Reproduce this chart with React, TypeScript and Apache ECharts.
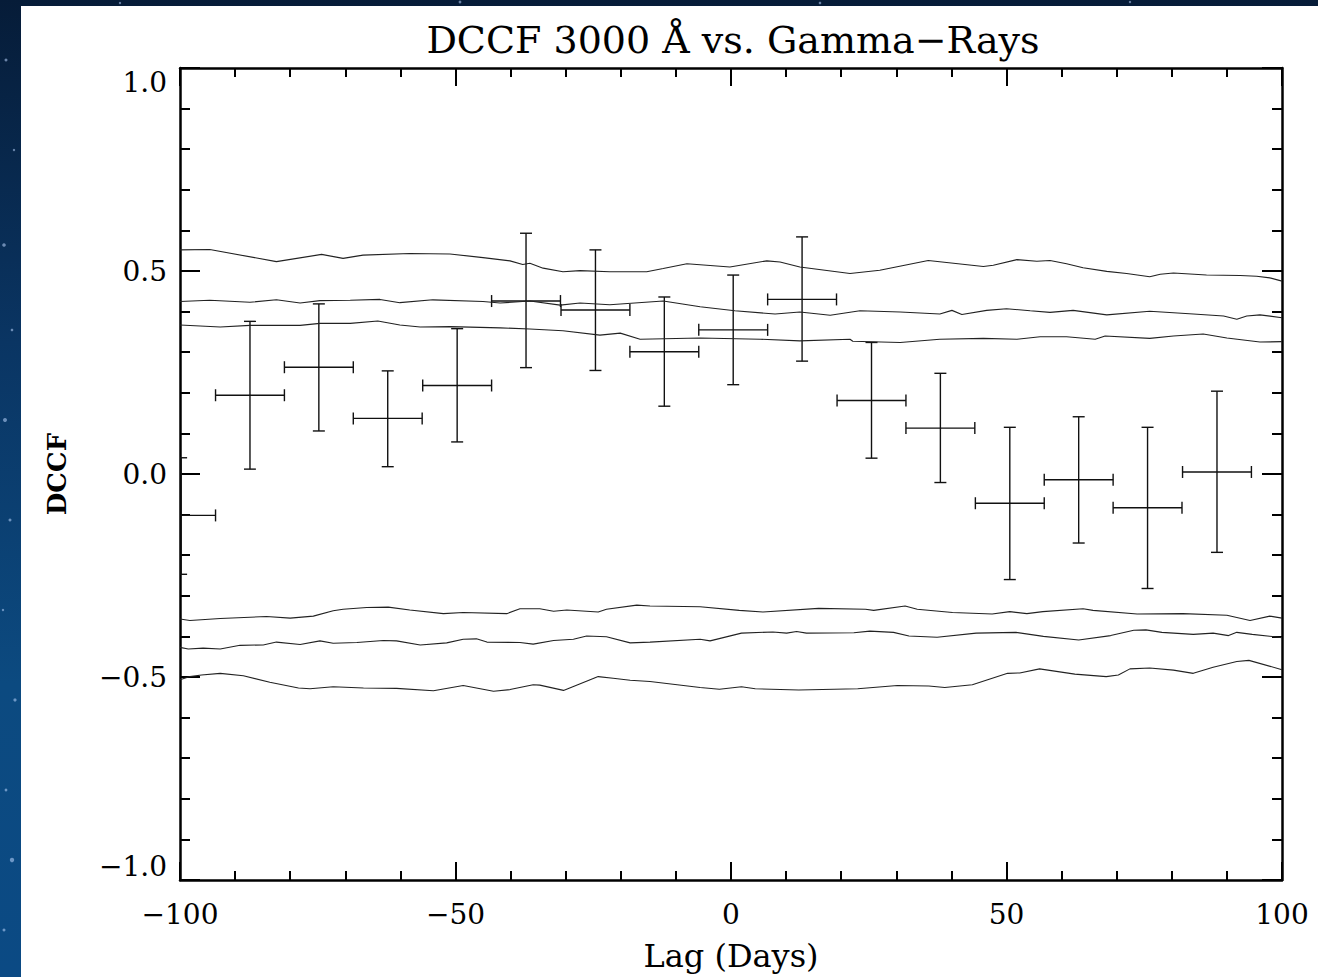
import React, { useEffect, useRef } from "react";
import * as echarts from "echarts";

// ---- Data ----
const lagCenters = [-99.8, -87.3, -74.8, -62.3, -49.7, -37.2, -24.6, -12.1, 0.4, 12.9, 25.5, 38.0, 50.6, 63.1, 75.6, 88.2];
const dccfValues = [-0.102, 0.194, 0.263, 0.137, 0.218, 0.426, 0.404, 0.301, 0.355, 0.430, 0.181, 0.113, -0.072, -0.014, -0.083, 0.005];
const dccfUpper = [0.040, 0.376, 0.419, 0.254, 0.358, 0.593, 0.552, 0.436, 0.490, 0.584, 0.324, 0.248, 0.115, 0.141, 0.115, 0.204];
const dccfLower = [-0.247, 0.012, 0.106, 0.018, 0.079, 0.262, 0.255, 0.167, 0.220, 0.278, 0.039, -0.021, -0.260, -0.170, -0.282, -0.193];
const binHalfWidth = 6.25;

const sigUpperOuter: [number, number][] = [
  [-100, 0.552], [-94.6, 0.553], [-82.5, 0.523], [-74.3, 0.541], [-70.4, 0.531], [-66.8, 0.539], [-58.3, 0.543],
  [-51.0, 0.542], [-45.0, 0.533], [-40.1, 0.525], [-37.8, 0.516], [-36.5, 0.519], [-34.1, 0.507], [-30.5, 0.498],
  [-27.4, 0.501], [-22.0, 0.498], [-15.3, 0.498], [-12.3, 0.506], [-8.0, 0.518], [-0.2, 0.510], [6.5, 0.525],
  [8.9, 0.522], [12.5, 0.510], [21.6, 0.494], [27.0, 0.502], [35.8, 0.526], [45.8, 0.511], [47.6, 0.514],
  [51.9, 0.528], [55.5, 0.524], [57.9, 0.526], [60.9, 0.518], [63.9, 0.508], [68.2, 0.499], [71.8, 0.494],
  [76.0, 0.486], [77.9, 0.492], [80.3, 0.495], [86.3, 0.490], [92.4, 0.489], [95.4, 0.487], [97.8, 0.483], [100, 0.475],
];
const sigUpperMiddle: [number, number][] = [
  [-100, 0.425], [-94.6, 0.428], [-87.3, 0.423], [-82.5, 0.429], [-78.2, 0.421], [-74.6, 0.427], [-69.1, 0.428],
  [-63.7, 0.430], [-60.1, 0.422], [-54.1, 0.429], [-45.0, 0.425], [-41.9, 0.421], [-36.5, 0.426], [-31.0, 0.416],
  [-27.4, 0.421], [-22.0, 0.417], [-12.3, 0.426], [-5.6, 0.412], [0.7, 0.402], [8.0, 0.394], [12.5, 0.399],
  [18.0, 0.391], [23.4, 0.402], [30.7, 0.399], [37.9, 0.394], [40.1, 0.403], [41.9, 0.393], [46.4, 0.403],
  [50.0, 0.407], [54.3, 0.402], [57.9, 0.398], [62.1, 0.403], [68.2, 0.392], [76.0, 0.401], [83.9, 0.394],
  [89.4, 0.389], [91.8, 0.381], [93.6, 0.389], [96.0, 0.392], [100, 0.385],
];
const sigUpperInner: [number, number][] = [
  [-100, 0.367], [-92.7, 0.362], [-87.3, 0.366], [-78.2, 0.366], [-74.6, 0.371], [-69.1, 0.371], [-64.1, 0.377],
  [-60.1, 0.367], [-56.4, 0.362], [-51.0, 0.363], [-41.9, 0.360], [-36.5, 0.357], [-30.5, 0.353], [-23.8, 0.342],
  [-20.1, 0.347], [-16.5, 0.332], [-5.6, 0.335], [5.3, 0.332], [12.5, 0.328], [21.6, 0.332], [22.1, 0.327],
  [30.7, 0.324], [37.9, 0.332], [45.8, 0.334], [51.9, 0.332], [56.1, 0.338], [60.9, 0.338], [66.1, 0.332],
  [67.9, 0.340], [76.0, 0.334], [80.3, 0.340], [85.7, 0.345], [90.0, 0.335], [96.0, 0.325], [100, 0.326],
];
const sigLowerInner: [number, number][] = [
  [-100, -0.357], [-98.2, -0.361], [-92.7, -0.356], [-84.3, -0.351], [-80.0, -0.355], [-75.8, -0.350], [-72.2, -0.337],
  [-70.4, -0.333], [-66.1, -0.329], [-62.2, -0.328], [-58.3, -0.335], [-52.2, -0.344], [-48.6, -0.341], [-40.7, -0.344],
  [-38.3, -0.332], [-34.7, -0.332], [-32.2, -0.338], [-29.8, -0.335], [-24.1, -0.340], [-22.6, -0.333], [-17.1, -0.323],
  [-14.7, -0.325], [-5.6, -0.327], [1.5, -0.336], [5.8, -0.340], [15.9, -0.331], [24.4, -0.333], [25.9, -0.336],
  [31.6, -0.325], [33.8, -0.333], [40.2, -0.341], [47.4, -0.345], [50.6, -0.339], [53.7, -0.344], [56.6, -0.339],
  [63.9, -0.332], [65.7, -0.336], [73.7, -0.345], [82.0, -0.344], [90.0, -0.348], [94.2, -0.361], [97.8, -0.350], [100, -0.355],
];
const sigLowerMiddle: [number, number][] = [
  [-100, -0.427], [-98.5, -0.431], [-95.8, -0.429], [-92.7, -0.431], [-89.1, -0.422], [-84.9, -0.421], [-82.5, -0.414],
  [-78.2, -0.420], [-74.6, -0.411], [-72.2, -0.417], [-67.9, -0.415], [-63.1, -0.410], [-60.7, -0.411], [-56.4, -0.421],
  [-51.6, -0.416], [-48.6, -0.407], [-46.2, -0.406], [-44.3, -0.414], [-38.3, -0.415], [-35.9, -0.419], [-32.2, -0.410],
  [-28.6, -0.407], [-26.2, -0.399], [-22.6, -0.401], [-18.3, -0.416], [-14.7, -0.414], [-5.6, -0.407], [-3.8, -0.411],
  [1.9, -0.392], [7.6, -0.389], [10.1, -0.392], [11.9, -0.388], [13.7, -0.392], [22.3, -0.391], [25.2, -0.387],
  [29.5, -0.390], [32.3, -0.399], [37.4, -0.402], [44.5, -0.392], [51.7, -0.390], [56.7, -0.400], [63.1, -0.409],
  [68.9, -0.398], [73.1, -0.385], [75.3, -0.384], [78.2, -0.390], [83.9, -0.395], [87.5, -0.392], [90.3, -0.398],
  [91.8, -0.390], [94.6, -0.395], [100, -0.403],
];
const sigLowerOuter: [number, number][] = [
  [-100, -0.507], [-98.2, -0.499], [-96.1, -0.495], [-92.7, -0.491], [-88.5, -0.497], [-83.7, -0.513], [-78.5, -0.527],
  [-76.4, -0.529], [-72.2, -0.524], [-66.7, -0.527], [-60.7, -0.528], [-54.0, -0.534], [-48.6, -0.521], [-43.1, -0.535],
  [-40.1, -0.531], [-35.9, -0.519], [-34.7, -0.520], [-30.4, -0.533], [-24.1, -0.499], [-21.4, -0.503], [-18.3, -0.508],
  [-14.7, -0.511], [-5.6, -0.526], [-2.1, -0.530], [1.9, -0.524], [4.4, -0.529], [12.3, -0.532], [23.0, -0.529],
  [30.2, -0.521], [35.9, -0.522], [38.8, -0.526], [43.8, -0.519], [50.2, -0.491], [52.4, -0.490], [56.0, -0.480],
  [62.4, -0.493], [68.1, -0.499], [70.3, -0.495], [72.4, -0.480], [76.0, -0.478], [80.3, -0.483], [83.9, -0.491],
  [87.5, -0.476], [91.8, -0.462], [94.0, -0.459], [100, -0.482],
];

const xTickLabels: Record<string, string> = { "-100": "\u2212100", "-50": "\u221250", "0": "0", "50": "50", "100": "100" };
const titleText = "DCCF 3000 \u00C5 vs. Gamma\u2212Rays";
const xName = "Lag (Days)";
const yName = "DCCF";

const FONT = "'DejaVu Serif', serif";

export default function App() {
  const ref = useRef<HTMLDivElement>(null);
  useEffect(() => {
    if (!ref.current) return;
    const chart = echarts.init(ref.current, undefined, { renderer: "svg" });

    const errData = lagCenters.map((x, i) => [x, dccfValues[i], dccfLower[i], dccfUpper[i], binHalfWidth]);

    const axisCommon = {
      type: "value" as const,
      axisLine: { show: true, onZero: false, lineStyle: { color: "#000", width: 2.5 } },
      splitLine: { show: false },
      minorSplitLine: { show: false },
    };

    const curveSeries = [sigUpperOuter, sigUpperMiddle, sigUpperInner, sigLowerInner, sigLowerMiddle, sigLowerOuter].map((d) => ({
      type: "line",
      data: d,
      showSymbol: false,
      symbol: "none",
      lineStyle: { color: "#222", width: 1.1 },
      xAxisIndex: 0,
      yAxisIndex: 0,
      silent: true,
      clip: true,
    }));

    const stars = [
      [6, 60, 1.5], [14, 150, 1.2], [4, 245, 1.8], [12, 330, 1.3], [5, 420, 2], [10, 520, 1.5], [3, 610, 1.2],
      [15, 700, 1.6], [6, 790, 1.4], [12, 860, 2.2], [4, 930, 1.5], [120, 3, 1.2], [460, 2, 1.4], [820, 3, 1.3], [1130, 2, 1.2],
    ];

    chart.setOption({
      animation: false,
      backgroundColor: "transparent",
      title: {
        text: titleText,
        left: 728,
        top: 16,
        textAlign: "center",
        textStyle: { fontFamily: FONT, fontSize: 38, fontWeight: "normal", color: "#000" },
      },
      graphic: [
        { type: "rect", shape: { x: 21, y: 6, width: 1297, height: 971 }, style: { fill: "#ffffff" }, silent: true, z: -10 },
        ...stars.map(([x, y, r]) => ({
          type: "circle",
          shape: { cx: x, cy: y, r },
          style: { fill: "rgba(190,215,255,0.55)" },
          silent: true,
          z: -9,
        })),
      ],
      grid: { left: 180, right: 36, top: 68, bottom: 94, containLabel: false },
      xAxis: [
        {
          ...axisCommon,
          position: "bottom",
          min: -100,
          max: 100,
          interval: 50,
          axisTick: { show: true, inside: true, length: 18, lineStyle: { color: "#000", width: 2 } },
          minorTick: { show: true, splitNumber: 5, length: 9, lineStyle: { color: "#000", width: 2 } },
          axisLabel: {
            show: true,
            margin: 20,
            fontFamily: FONT,
            fontSize: 28,
            color: "#000",
            formatter: (v: number) => xTickLabels[String(v)] ?? String(v),
          },
          name: xName,
          nameLocation: "middle",
          nameGap: 60,
          nameTextStyle: { fontFamily: FONT, fontSize: 32, color: "#000" },
        },
        {
          ...axisCommon,
          position: "top",
          min: -100,
          max: 100,
          interval: 50,
          axisTick: { show: true, inside: true, length: 18, lineStyle: { color: "#000", width: 2 } },
          minorTick: { show: true, splitNumber: 5, length: 9, lineStyle: { color: "#000", width: 2 } },
          axisLabel: { show: false },
        },
      ],
      yAxis: [
        {
          ...axisCommon,
          position: "left",
          min: -1,
          max: 1,
          interval: 0.5,
          axisTick: { show: true, inside: true, length: 20, lineStyle: { color: "#000", width: 2 } },
          minorTick: { show: true, splitNumber: 5, length: 10, lineStyle: { color: "#000", width: 2 } },
          axisLabel: {
            show: true,
            margin: 13,
            fontFamily: FONT,
            fontSize: 28,
            color: "#000",
            verticalAlignMaxLabel: "top",
            verticalAlignMinLabel: "bottom",
            formatter: (v: number) => (v < 0 ? "\u2212" + Math.abs(v).toFixed(1) : v.toFixed(1)),
          },
          name: yName,
          nameLocation: "middle",
          nameRotate: 90,
          nameGap: 110,
          nameTextStyle: { fontFamily: FONT, fontSize: 26, fontWeight: "bold", color: "#000" },
        },
        {
          ...axisCommon,
          position: "right",
          min: -1,
          max: 1,
          interval: 0.5,
          axisTick: { show: true, inside: true, length: 20, lineStyle: { color: "#000", width: 2 } },
          minorTick: { show: true, splitNumber: 5, length: 10, lineStyle: { color: "#000", width: 2 } },
          axisLabel: { show: false },
        },
      ],
      series: [
        ...curveSeries,
        {
          type: "custom",
          xAxisIndex: 0,
          yAxisIndex: 0,
          data: errData,
          encode: { x: [0], y: [1, 2, 3] },
          silent: true,
          renderItem: (params: any, api: any) => {
            const x = api.value(0);
            const y = api.value(1);
            const lo = api.value(2);
            const hi = api.value(3);
            const hw = api.value(4);
            const cs = params.coordSys;
            const c = api.coord([x, y]);
            const pTop = api.coord([x, hi]);
            const pBot = api.coord([x, lo]);
            const pL = api.coord([x - hw, y]);
            const pR = api.coord([x + hw, y]);
            const x0 = cs.x;
            const x1 = cs.x + cs.width;
            const clampX = (v: number) => Math.max(x0, Math.min(x1, v));
            const cap = 6;
            const style = { stroke: "#111", lineWidth: 1.4, fill: "none" };
            const children: any[] = [];
            const seg = (a: number, b: number, cc: number, d: number) =>
              children.push({ type: "line", shape: { x1: a, y1: b, x2: cc, y2: d }, style });
            seg(c[0], pTop[1], c[0], pBot[1]);
            seg(clampX(c[0] - cap), pTop[1], clampX(c[0] + cap), pTop[1]);
            seg(clampX(c[0] - cap), pBot[1], clampX(c[0] + cap), pBot[1]);
            seg(clampX(pL[0]), c[1], clampX(pR[0]), c[1]);
            if (pL[0] >= x0) seg(pL[0], c[1] - cap, pL[0], c[1] + cap);
            if (pR[0] <= x1) seg(pR[0], c[1] - cap, pR[0], c[1] + cap);
            return { type: "group", children };
          },
        },
      ],
    });
    return () => chart.dispose();
  }, []);

  return (
    <div
      style={{
        position: "absolute",
        left: 0,
        top: 0,
        width: 1318,
        height: 977,
        background: "linear-gradient(180deg, #061c38 0%, #0a3563 35%, #0c4a80 70%, #0b4a84 100%)",
      }}
    >
      <div ref={ref} style={{ width: 1318, height: 977 }} />
    </div>
  );
}
